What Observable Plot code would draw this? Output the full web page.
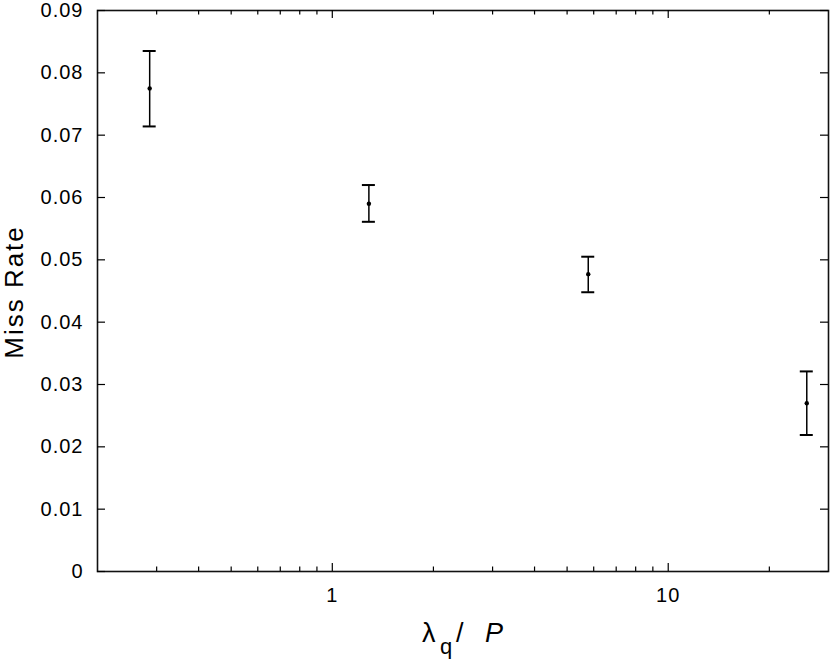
<!DOCTYPE html>
<html><head><meta charset="utf-8">
<script src="https://cdn.jsdelivr.net/npm/d3@7"></script>
<script src="https://cdn.jsdelivr.net/npm/@observablehq/plot@0.6"></script>
<style>body{margin:0;background:#fff} svg{display:block}</style>
</head><body><div id="chart"></div>
<script>
// Data
const ratio = [0.286, 1.285, 5.78, 25.85];
const missRate = [0.0775, 0.0590, 0.0477, 0.0270];
const missLow = [0.0714, 0.0561, 0.0448, 0.0219];
const missHigh = [0.0835, 0.0620, 0.0505, 0.0321];

// Ticks
const xMajorTicks = [1, 10];
const xMajorLabels = ["1", "10"];
const xMinorTicks = [0.3, 0.4, 0.5, 0.6, 0.7, 0.8, 0.9, 2, 3, 4, 5, 6, 7, 8, 9, 20];
const yTicks = [0, 0.01, 0.02, 0.03, 0.04, 0.05, 0.06, 0.07, 0.08, 0.09];
const yTickLabels = ["0", "0.01", "0.02", "0.03", "0.04", "0.05", "0.06", "0.07", "0.08", "0.09"];

const data = ratio.map((x, i) => ({x, y: missRate[i], lo: missLow[i], hi: missHigh[i]}));

const W = 830, H = 664, mL = 97, mR = 2, mT = 10, mB = 93;
const pw = W - mL - mR, ph = H - mT - mB;

const svg = Plot.plot({
  width: W, height: H,
  marginLeft: mL, marginRight: mR, marginTop: mT, marginBottom: mB,
  style: {fontFamily: "'Liberation Sans', Arial, sans-serif", fontSize: "20px", letterSpacing: "1px", color: "#000", background: "#fff"},
  x: {type: "log", domain: [0.2, 30]},
  y: {domain: [0, 0.09]},
  marks: [
    Plot.frame({stroke: "#111", strokeWidth: 1.6}),
    // inward ticks on all four sides
    Plot.tickY(yTicks, {y: d => d, insetRight: pw - 8, stroke: "#000", strokeWidth: 1.2}),
    Plot.tickY(yTicks, {y: d => d, insetLeft: pw - 8, stroke: "#000", strokeWidth: 1.2}),
    Plot.tickX(xMajorTicks, {x: d => d, insetTop: ph - 8, stroke: "#000", strokeWidth: 1.2}),
    Plot.tickX(xMajorTicks, {x: d => d, insetBottom: ph - 8, stroke: "#000", strokeWidth: 1.2}),
    Plot.tickX(xMinorTicks, {x: d => d, insetTop: ph - 4.5, stroke: "#000", strokeWidth: 1.2}),
    Plot.tickX(xMinorTicks, {x: d => d, insetBottom: ph - 4.5, stroke: "#000", strokeWidth: 1.2}),
    Plot.axisY({ticks: yTicks, tickFormat: d => yTickLabels[yTicks.indexOf(d)], tickSize: 0, tickPadding: 14, fontSize: 20, label: null}),
    Plot.axisX({ticks: xMajorTicks, tickFormat: d => xMajorLabels[xMajorTicks.indexOf(d)], tickSize: 0, tickPadding: 16, fontSize: 20, label: null}),
    // error bars
    Plot.ruleX(data, {x: "x", y1: "lo", y2: "hi", stroke: "#000", strokeWidth: 1.5}),
    Plot.ruleY(data, {y: "hi", x1: "x", x2: "x", insetLeft: -6.5, insetRight: -6.5, stroke: "#000", strokeWidth: 2}),
    Plot.ruleY(data, {y: "lo", x1: "x", x2: "x", insetLeft: -6.5, insetRight: -6.5, stroke: "#000", strokeWidth: 2}),
    Plot.dot(data, {x: "x", y: "y", r: 2.2, fill: "#000", stroke: "none"})
  ]
});

const s = d3.select(svg);
s.append("text")
  .attr("transform", "translate(23,292) rotate(-90)")
  .attr("text-anchor", "middle")
  .style("font-size", "26px")
  .style("letter-spacing", "2px")
  .attr("fill", "#000")
  .text("Miss Rate");

const xt = s.append("text")
  .attr("y", 642)
  .attr("text-anchor", "start")
  .style("font-size", "27px")
  .style("letter-spacing", "0px")
  .attr("fill", "#000");
xt.append("tspan").attr("x", 422).text("λ");
xt.append("tspan").attr("x", 440).style("font-size", "22px").attr("dy", 12).text("q");
xt.append("tspan").attr("x", 456).attr("dy", -12).text("/");
xt.append("tspan").attr("x", 485).style("font-style", "italic").text("P");

document.getElementById("chart").appendChild(svg);
</script>
</body></html>
